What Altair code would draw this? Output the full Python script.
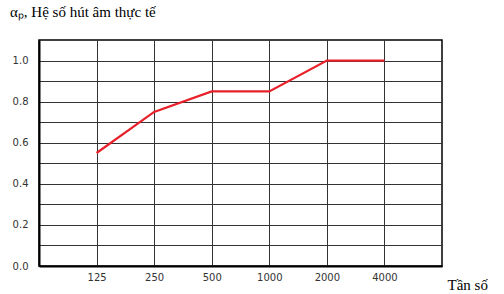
import altair as alt
import pandas as pd

freqs = ["125", "250", "500", "1000", "2000", "4000"]
alpha = [0.55, 0.75, 0.85, 0.85, 1.0, 1.0]

df = pd.DataFrame({"pos": list(range(1, len(freqs) + 1)), "freq": freqs, "alpha": alpha})

label_expr = "datum.value >= 1 && datum.value <= 6 ? " + str(freqs) + "[datum.value - 1] : ''"

y_vals = [round(i * 0.1, 1) for i in range(0, 11)]

chart = alt.Chart(df).mark_line(color="#e8202a", strokeWidth=2.2).encode(
    x=alt.X("pos:Q",
            scale=alt.Scale(domain=[0, 7], nice=False, zero=False),
            axis=alt.Axis(values=[1, 2, 3, 4, 5, 6], labelExpr=label_expr,
                          ticks=False, labelPadding=6, labelFontSize=10,
                          labelFont="DejaVu Sans", labelColor="#333",
                          domainColor="#000", domainWidth=2,
                          gridColor="#333", gridWidth=1, gridOpacity=1,
                          title="Tần số", titleFont="Liberation Serif",
                          titleFontSize=15, titleFontWeight="normal",
                          titleColor="#000", titleAlign="left",
                          titleAnchor="start", titleX=408, titleY=23,
                          titleBaseline="alphabetic")),
    y=alt.Y("alpha:Q",
            scale=alt.Scale(domain=[0, 1.1], nice=False),
            axis=alt.Axis(values=y_vals,
                          labelExpr="round(datum.value*10) % 2 == 0 ? format(datum.value, '.1f') : ''",
                          ticks=False, labelPadding=11, labelFontSize=10,
                          labelFont="DejaVu Sans", labelColor="#333",
                          domainColor="#000", domainWidth=2,
                          gridColor="#333", gridWidth=1, gridOpacity=1,
                          title=None)),
).properties(
    width=403, height=226,
    title=alt.TitleParams("αₚ, Hệ số hút âm thực tế", anchor="start", frame="group",
                          font="Liberation Serif", fontSize=15, fontWeight="normal",
                          color="#000", dx=-29, offset=20),
    autosize=alt.AutoSizeParams(type="none"),
    padding={"left": 39, "top": 40, "right": 62, "bottom": 28},
).configure(
    background="white",
    view=alt.ViewConfig(stroke="#000", strokeWidth=1.5),
)

chart.save("out.html", embed_options={"renderer": "svg", "actions": False})
